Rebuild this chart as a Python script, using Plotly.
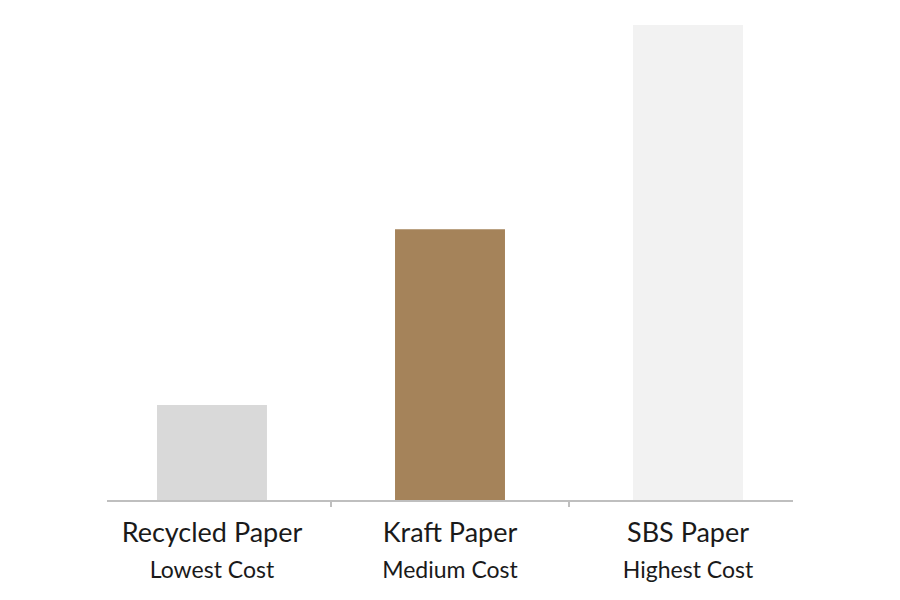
import plotly.graph_objects as go

categories = ["Recycled Paper", "Kraft Paper", "SBS Paper"]
subtitles = ["Lowest Cost", "Medium Cost", "Highest Cost"]
relative_cost = [20, 57, 100]
bar_colors = ["#d9d9d9", "#a5835a", "#f2f2f2"]

tick_text = [
    f"{name}<br><span style='font-size:23px'>{sub}</span>"
    for name, sub in zip(categories, subtitles)
]

fig = go.Figure()
fig.add_trace(
    go.Bar(
        x=categories,
        y=relative_cost,
        marker=dict(color=bar_colors, line=dict(width=0)),
        width=0.462,
        hoverinfo="skip",
    )
)

fig.update_layout(
    width=900,
    height=600,
    margin=dict(l=99, r=115, t=12, b=108),
    paper_bgcolor="white",
    plot_bgcolor="white",
    showlegend=False,
    font=dict(family="Lato, Open Sans, sans-serif", color="#1a1a1a"),
)

fig.update_xaxes(
    range=[-0.441, 2.441],
    tickmode="array",
    tickvals=categories,
    ticktext=tick_text,
    tickson="boundaries",
    ticks="outside",
    ticklen=5,
    tickwidth=1.5,
    tickcolor="#bfbfbf",
    showline=True,
    linecolor="#bfbfbf",
    linewidth=2,
    showgrid=False,
    ticklabelstandoff=8,
    tickfont=dict(size=27, color="#1a1a1a"),
)
fig.update_yaxes(
    range=[0, 101.05],
    visible=False,
    showgrid=False,
)

fig.write_html("out.html")
